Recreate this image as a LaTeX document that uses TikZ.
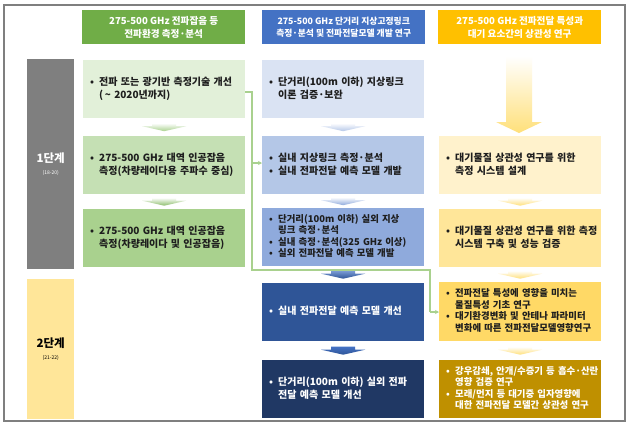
\documentclass[tikz,border=0pt]{standalone}
\usepackage{fontspec}
\setmainfont{Noto Sans CJK KR}
\usetikzlibrary{arrows.meta,calc}
\definecolor{framec}{HTML}{7F7F7F}
\definecolor{hg}{HTML}{70AD47}
\definecolor{hb}{HTML}{4472C4}
\definecolor{hy}{HTML}{FFC000}
\definecolor{lA}{HTML}{E2F0D9}
\definecolor{lB}{HTML}{C5E0B4}
\definecolor{lC}{HTML}{A9D18E}
\definecolor{mA}{HTML}{DAE3F3}
\definecolor{mB}{HTML}{B4C7E7}
\definecolor{mC}{HTML}{8FAADC}
\definecolor{mD}{HTML}{2F5597}
\definecolor{mE}{HTML}{203864}
\definecolor{rA}{HTML}{FFF2CC}
\definecolor{rB}{HTML}{FFE699}
\definecolor{rC}{HTML}{FFD966}
\definecolor{rD}{HTML}{BF9000}
\definecolor{sg}{HTML}{7F7F7F}
\definecolor{sy}{HTML}{FFE699}
\definecolor{connc}{HTML}{A9D18E}
\definecolor{txt}{HTML}{1E1E1E}
\definecolor{arrY}{HTML}{FFE07A}
\newcommand\bl{\makebox[9pt][l]{•}}
\newcommand\ct{\hspace*{9pt}}
\newcommand\tb[1]{\begin{tabular}{@{}l@{}}#1\end{tabular}}
\newcommand\dnarrow[3]{\shade[shift={(#1)},top color=#2,bottom color=#3] (-12,-4) -- (12,-4) -- (12,-1) -- (22,-1) -- (0,4) -- (-22,-1) -- (-12,-1) -- cycle;}
\tikzset{
  box/.style={draw=none, anchor=north west, minimum width=162pt, minimum height=58pt,
    inner xsep=7pt, inner ysep=0pt, text width=148pt, align=left,
    font=\fontsize{10}{13}\selectfont\bfseries, text=txt},
  dense/.style={font=\fontsize{9.4}{11.5}\selectfont\bfseries},
  hdr/.style={anchor=north west, minimum width=163pt, minimum height=34pt, text=white,
    align=center, font=\fontsize{9.6}{12.5}\selectfont\bfseries, inner sep=0pt},
  stage/.style={anchor=north west, minimum width=47pt, inner sep=0pt, align=center},
  conn/.style={draw=connc, line width=1.2pt},
}
\begin{document}
\begin{tikzpicture}[x=1pt,y=-1pt]
\useasboundingbox (0,0) rectangle (631,426);
\fill[white] (0,0) rectangle (631,426);
\draw[framec, line width=1.4pt] (4,5) rectangle (625,421);
% headers
\node[hdr, fill=hg] (H1) at (82,10) {275-500 GHz 전파잡음 등\\전파환경 측정·분석};
\node[hdr, fill=hb, font=\fontsize{8.8}{12.5}\selectfont\bfseries] (H2) at (262,10) {275-500 GHz 단거리 지상고정링크\\측정·분석 및 전파전달모델 개발 연구};
\node[hdr, fill=hy] (H3) at (438,10) {275-500 GHz 전파전달 특성과\\대기 요소간의 상관성 연구};
% stages
\node[stage, fill=sg, minimum height=210pt, text=white] (S1) at (27,59) {{\fontsize{11.5}{13}\selectfont\bfseries 1단계}\\{\fontsize{5}{6}\selectfont (18-20)}};
\node[stage, fill=sy, minimum height=140pt, text=black] (S2) at (27,279) {{\fontsize{11.5}{13}\selectfont\bfseries 2단계}\\{\fontsize{5}{6}\selectfont (21-22)}};
% left column
\node[box, fill=lA] (L1) at (83,60) {\tb{\bl 전파 또는 광기반 측정기술 개선\\ \ct(\,\textasciitilde{} 2020년까지)}};
\node[box, fill=lB] (L2) at (83,136) {\tb{\bl 275-500 GHz 대역 인공잡음\\ \ct 측정(차량레이다용 주파수 중심)}};
\node[box, fill=lC] (L3) at (83,209) {\tb{\bl 275-500 GHz 대역 인공잡음\\ \ct 측정(차량레이다 및 인공잡음)}};
% middle column
\node[box, fill=mA] (M1) at (262,60) {\tb{\bl 단거리(100m 이하) 지상링크\\ \ct 이론 검증·보완}};
\node[box, fill=mB] (M2) at (262,136) {\tb{\bl 실내 지상링크 측정·분석\\ \bl 실내 전파전달 예측 모델 개발}};
\node[box, fill=mC, dense] (M3) at (262,208) {\tb{\bl 단거리(100m 이하) 실외 지상\\ \ct 링크 측정·분석\\ \bl 실내 측정·분석(325 GHz 이상)\\ \bl 실외 전파전달 예측 모델 개발}};
\node[box, fill=mD, text=white] (M4) at (262,283) {\tb{\bl 실내 전파전달 예측 모델 개선}};
\node[box, fill=mE, text=white] (M5) at (262,360) {\tb{\bl 단거리(100m 이하) 실외 전파\\ \ct 전달 예측 모델 개선}};
% right column
\node[box, fill=rA] (R1) at (439,136) {\tb{\bl 대기물질 상관성 연구를 위한\\ \ct 측정 시스템 설계}};
\node[box, fill=rB] (R2) at (439,209) {\tb{\bl 대기물질 상관성 연구를 위한 측정\\ \ct 시스템 구축 및 성능 검증}};
\node[box, fill=rC, dense, minimum height=59pt] (R3) at (439,282) {\tb{\bl 전파전달 특성에 영향을 미치는\\ \ct 물질특성 기초 연구\\ \bl 대기환경변화 및 안테나 파라미터\\ \ct 변화에 따른 전파전달모델영향연구}};
\node[box, fill=rD, dense, text=white] (R4) at (439,360) {\tb{\bl 강우감쇄, 안개/수증기 등 흡수·산란\\ \ct 영향 검증 연구\\ \bl 모래/먼지 등 대기중 입자영향에\\ \ct 대한 전파전달 모델간 상관성 연구}};
% small arrows
\coordinate (aL1) at ($(L1.south)!0.5!(L2.north)$);
\coordinate (aL2) at ($(L2.south)!0.5!(L3.north)$);
\coordinate (aM1) at ($(M1.south)!0.5!(M2.north)$);
\coordinate (aM2) at ($(M2.south)!0.5!(M3.north)$);
\coordinate (aM3) at ($(M3.south)!0.5!(M4.north)$);
\coordinate (aM4) at ($(M4.south)!0.5!(M5.north)$);
\coordinate (aR1) at ($(R1.south)!0.5!(R2.north)$);
\coordinate (aR2) at ($(R2.south)!0.5!(R3.north)$);
\coordinate (aR3) at ($(R3.south)!0.5!(R4.north)$);
\dnarrow{aL1}{white}{lC}
\dnarrow{aL2}{white}{hg!80}
\dnarrow{aM1}{white}{mB}
\dnarrow{aM2}{white}{mC}
\dnarrow{aM3}{hb!70}{mD}
\dnarrow{aM4}{hb}{mD}
\dnarrow{aR1}{white}{arrY}
\dnarrow{aR2}{white}{arrY}
\dnarrow{aR3}{white}{arrY}
% big arrow right
\shade[top color=white, bottom color=arrY] (506,56) -- (532,56) -- (532,122) -- (542,122) -- (519,133) -- (496,122) -- (506,122) -- cycle;
% connectors
\coordinate (ja) at (252,92);
\coordinate (jb) at (252,270);
\coordinate (jc) at (430,270);
\coordinate (jd) at (430,312);
\coordinate (jm) at (252,163);
\draw[conn] (L1.east|-ja) -- (ja) -- (jb) -- (jc) -- (jd);
\draw[conn, -{Stealth[length=4pt,width=4pt]}] (jd) -- (R3.west|-jd);
\draw[conn, -{Stealth[length=4pt,width=4pt]}] (jm) -- (M2.west|-jm);
\end{tikzpicture}
\end{document}
